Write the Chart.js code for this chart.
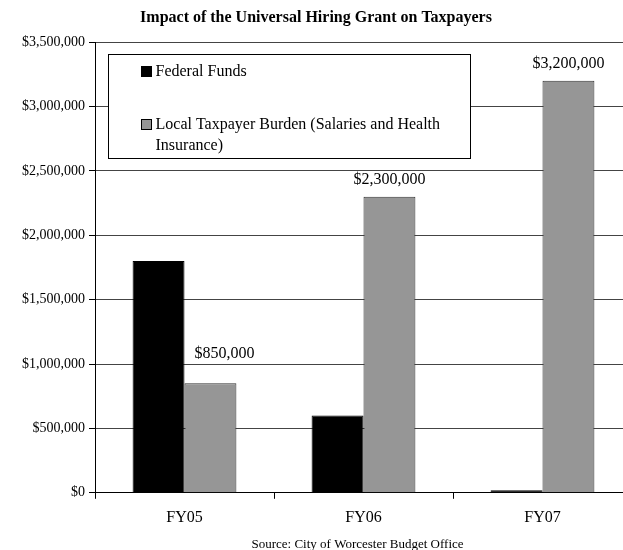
<!DOCTYPE html>
<html>
<head>
<meta charset="utf-8">
<script src="https://cdn.jsdelivr.net/npm/chart.js@4/dist/chart.umd.min.js"></script>
<style>
  html, body { margin: 0; padding: 0; background: #fff; overflow: hidden; }
  #wrap { width: 623px; height: 550px; position: relative; overflow: hidden; }
</style>
</head>
<body>
<div id="wrap"><canvas id="grantChart" width="632" height="550"></canvas></div>
<script>
// Impact of the Universal Hiring Grant on Taxpayers
const years        = ['FY05', 'FY06', 'FY07'];
const federalFunds = [1800000, 600000, 20000];
const localBurden  = [850000, 2300000, 3200000];
const yTicks       = [0, 500000, 1000000, 1500000, 2000000, 2500000, 3000000, 3500000];

const serif = "'Liberation Serif', 'Times New Roman', serif";
const money = v => '$' + Number(v).toLocaleString('en-US');

// value labels above the local burden bars (first one was nudged in the original)
const valueLabels = {
  id: 'valueLabels',
  afterDatasetsDraw(chart) {
    const { ctx } = chart;
    const meta = chart.getDatasetMeta(1);
    ctx.save();
    ctx.font = '16px ' + serif;
    ctx.fillStyle = '#000';
    ctx.textAlign = 'center';
    ctx.textBaseline = 'middle';
    meta.data.forEach((bar, i) => {
      let dx = 0, dy = -17;
      if (i === 0) { dx = 14; dy = -30; }
      ctx.fillText(money(localBurden[i]), bar.x + dx, bar.y + dy);
    });
    ctx.restore();
  }
};

// boxed legend inside the plot + source note
const boxLegend = {
  id: 'boxLegend',
  afterDraw(chart) {
    const { ctx, chartArea } = chart;
    const x0 = Math.round(chartArea.left) + 13.5, y0 = Math.round(chartArea.top) + 12.5;
    ctx.save();
    ctx.fillStyle = '#fff';
    ctx.strokeStyle = '#000';
    ctx.lineWidth = 1;
    ctx.fillRect(x0, y0, 362, 104);
    ctx.strokeRect(x0, y0, 362, 104);

    ctx.font = '16px ' + serif;
    ctx.textBaseline = 'middle';
    ctx.textAlign = 'left';
    const items = [
      { color: '#000000', lines: ['Federal Funds'], y: y0 + 17 },
      { color: '#969696', lines: ['Local Taxpayer Burden (Salaries and Health', 'Insurance)'], y: y0 + 70 },
    ];
    items.forEach(it => {
      ctx.fillStyle = it.color;
      ctx.fillRect(x0 + 33, it.y - 5, 10, 10);
      ctx.strokeStyle = '#000';
      ctx.strokeRect(x0 + 33, it.y - 5, 10, 10);
      ctx.fillStyle = '#000';
      it.lines.forEach((l, k) => ctx.fillText(l, x0 + 47, it.y + k * 21));
    });

    ctx.font = '13px ' + serif;
    ctx.textAlign = 'center';
    ctx.fillText('Source: City of Worcester Budget Office',
      (chartArea.left + chartArea.right) / 2 - 6, chartArea.bottom + 52);
    ctx.restore();
  }
};

new Chart(document.getElementById('grantChart'), {
  type: 'bar',
  data: {
    labels: years,
    datasets: [
      {
        label: 'Federal Funds',
        data: federalFunds,
        backgroundColor: '#000000',
        borderColor: '#000000',
        borderWidth: 1,
        barPercentage: 1,
        categoryPercentage: 0.58,
      },
      {
        label: 'Local Taxpayer Burden (Salaries and Health Insurance)',
        data: localBurden,
        backgroundColor: '#969696',
        borderColor: '#333333',
        borderWidth: 1,
        barPercentage: 1,
        categoryPercentage: 0.58,
      },
    ],
  },
  options: {
    responsive: false,
    animation: false,
    layout: { padding: { left: 0, right: 0, top: 0, bottom: 14 } },
    plugins: {
      legend: { display: false },
      tooltip: { enabled: false },
      title: {
        display: true,
        text: 'Impact of the Universal Hiring Grant on Taxpayers',
        color: '#000',
        font: { family: serif, size: 16, weight: 'bold' },
        padding: { top: 8, bottom: 15 },
      },
    },
    scales: {
      x: {
        grid: { drawOnChartArea: false, tickColor: '#000', tickLength: 6, offset: true },
        border: { color: '#000', width: 1 },
        ticks: { color: '#000', font: { family: serif, size: 16 }, padding: 9 },
      },
      y: {
        min: 0,
        max: 3500000,
        afterBuildTicks: axis => { axis.ticks = yTicks.map(v => ({ value: v })); },
        afterFit: axis => { axis.width += 18; },
        grid: { color: '#444', tickColor: '#000', tickLength: 6 },
        border: { color: '#000', width: 1 },
        ticks: { color: '#000', font: { family: serif, size: 14 }, padding: 4, callback: v => money(v) },
      },
    },
  },
  plugins: [valueLabels, boxLegend],
});
</script>
</body>
</html>
